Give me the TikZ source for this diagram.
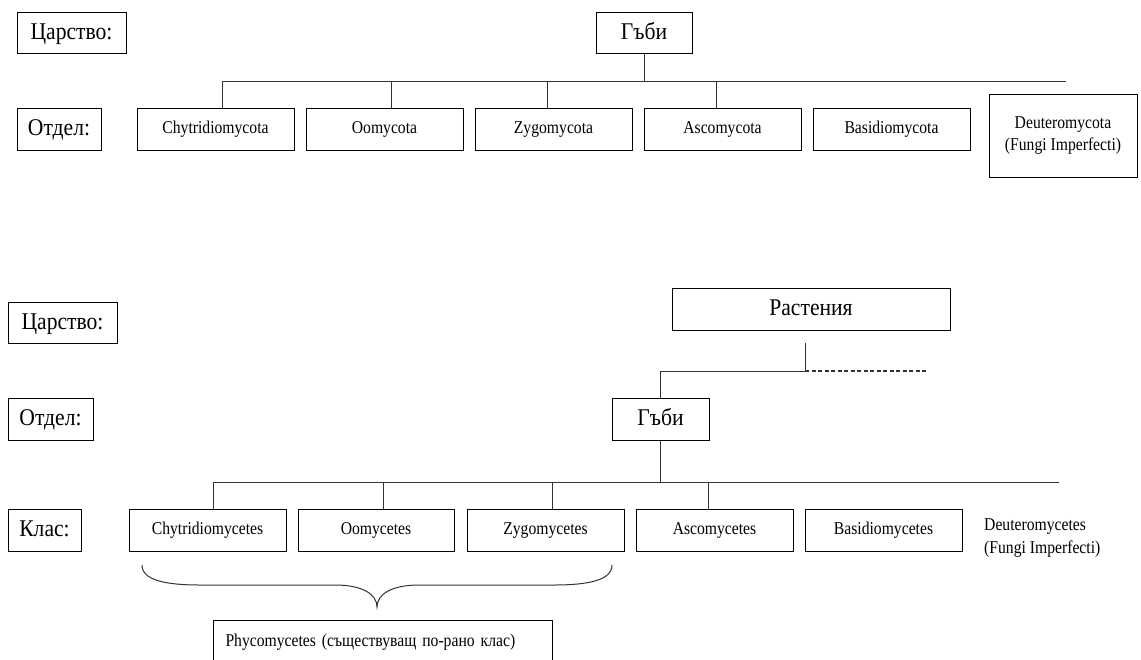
\documentclass[tikz,border=0pt]{standalone}
\usepackage{fontspec}
\setmainfont{Liberation Serif}
\newfontfamily\bigfont[FakeStretch=0.9]{Liberation Serif}
\newfontfamily\smallfont[FakeStretch=0.87]{Liberation Serif}
\begin{document}
\begin{tikzpicture}[x=1pt,y=-1pt,
  big/.style={draw=black, line width=1pt, inner sep=0pt, font=\bigfont\fontsize{24}{28}\selectfont, text height=17pt, text depth=4pt},
  smallbox/.style={draw=black, line width=1pt, inner sep=0pt, font=\smallfont\fontsize{18}{22}\selectfont, minimum height=42pt, minimum width=157pt},
  small/.style={smallbox, text height=12pt, text depth=4pt},
  conn/.style={draw=black!80, line width=1pt},
  dashconn/.style={draw=black!80, line width=1.2pt, dash pattern=on 4pt off 2.5pt}]
\useasboundingbox (0,0) rectangle (1141,659);
\clip (0,0) rectangle (1141,659);

% ---------- top ----------
\node[big, minimum width=109pt, minimum height=41pt] (k1) at (71.5,32.5) {Царство:};
\node[big, minimum width=96pt, minimum height=41pt] (g1) at (644,32.5) {Гъби};
\node[big, minimum width=84pt, minimum height=42pt] (o1) at (59,129) {Отдел:};
\node[small] (c1) at (215.5,129) {Chytridiomycota};
\node[small] (c2) at (384.5,129) {Oomycota};
\node[small] (c3) at (553.5,129) {Zygomycota};
\node[small] (c4) at (722.5,129) {Ascomycota};
\node[small] (c5) at (891.5,129) {Basidiomycota};
\node[smallbox, minimum width=148pt, minimum height=83pt, align=center] (c6) at (1063,135.5) {Deuteromycota\\(Fungi Imperfecti)};

\coordinate (bar1L) at (222,81);
\coordinate (bar1R) at (1066,81);
\draw[conn] (bar1L) -- (bar1R);
\draw[conn] (g1.south) -- (g1.south |- bar1L);
\foreach \x [count=\i] in {222,391,547,716} {
  \coordinate (t\i) at (\x,81);
  \draw[conn] (t\i) -- (t\i |- c\i.north);
}

% ---------- bottom ----------
\node[big, minimum width=109pt, minimum height=41pt] (k2) at (62.5,322.5) {Царство:};
\node[big, minimum width=85pt, minimum height=42pt] (o2) at (50.5,419) {Отдел:};
\node[big, minimum width=73pt, minimum height=42pt] (kl) at (44.5,530) {Клас:};
\node[big, minimum width=278pt, minimum height=42pt] (pl) at (811,309) {Растения};
\node[big, minimum width=97pt, minimum height=42pt] (g2) at (660.5,419) {Гъби};

\coordinate (pstem) at (805,343);
\coordinate (pj) at (805,371);
\coordinate (pd) at (927,371);
\draw[conn] (pstem) -- (pj) -- (pj -| g2.north) -- (g2.north);
\draw[dashconn] (pj) -- (pd);

\coordinate (bar2L) at (213,482);
\coordinate (bar2R) at (1059,482);
\draw[conn] (bar2L) -- (bar2R);
\draw[conn] (g2.south) -- (g2.south |- bar2L);

\node[small] (e1) at (207.5,530) {Chytridiomycetes};
\node[small, minimum width=156pt] (e2) at (376,530) {Oomycetes};
\node[small] (e3) at (545.5,530) {Zygomycetes};
\node[small] (e4) at (714.5,530) {Ascomycetes};
\node[small] (e5) at (883.5,530) {Basidiomycetes};
\node[font=\smallfont\fontsize{18}{23}\selectfont, align=left, anchor=west, inner sep=0pt] (e6) at (984,538.5) {Deuteromycetes\\(Fungi Imperfecti)};

\foreach \x [count=\i] in {213,383,552,708} {
  \coordinate (u\i) at (\x,482);
  \draw[conn] (u\i) -- (u\i |- e\i.north);
}

% brace
\coordinate (brL) at (142,565);
\coordinate (brR) at (612,565);
\coordinate (brT) at (377,607);
\draw[conn] (brL) .. controls (142,580) and (165,585) .. (200,585) -- (335,585)
  .. controls (362,585) and (377,594) .. (brT)
  .. controls (377,594) and (392,585) .. (419,585) -- (554,585)
  .. controls (589,585) and (612,580) .. (brR);

\node[draw=black, line width=1pt, anchor=north west, inner xsep=12pt, inner ysep=0pt,
      text width=315pt, align=left, text height=26pt, text depth=25pt,
      font=\smallfont\fontsize{18}{22}\selectfont] (ph) at (213,620) {Phycomycetes (съществуващ по-рано клас)};
\end{tikzpicture}
\end{document}
